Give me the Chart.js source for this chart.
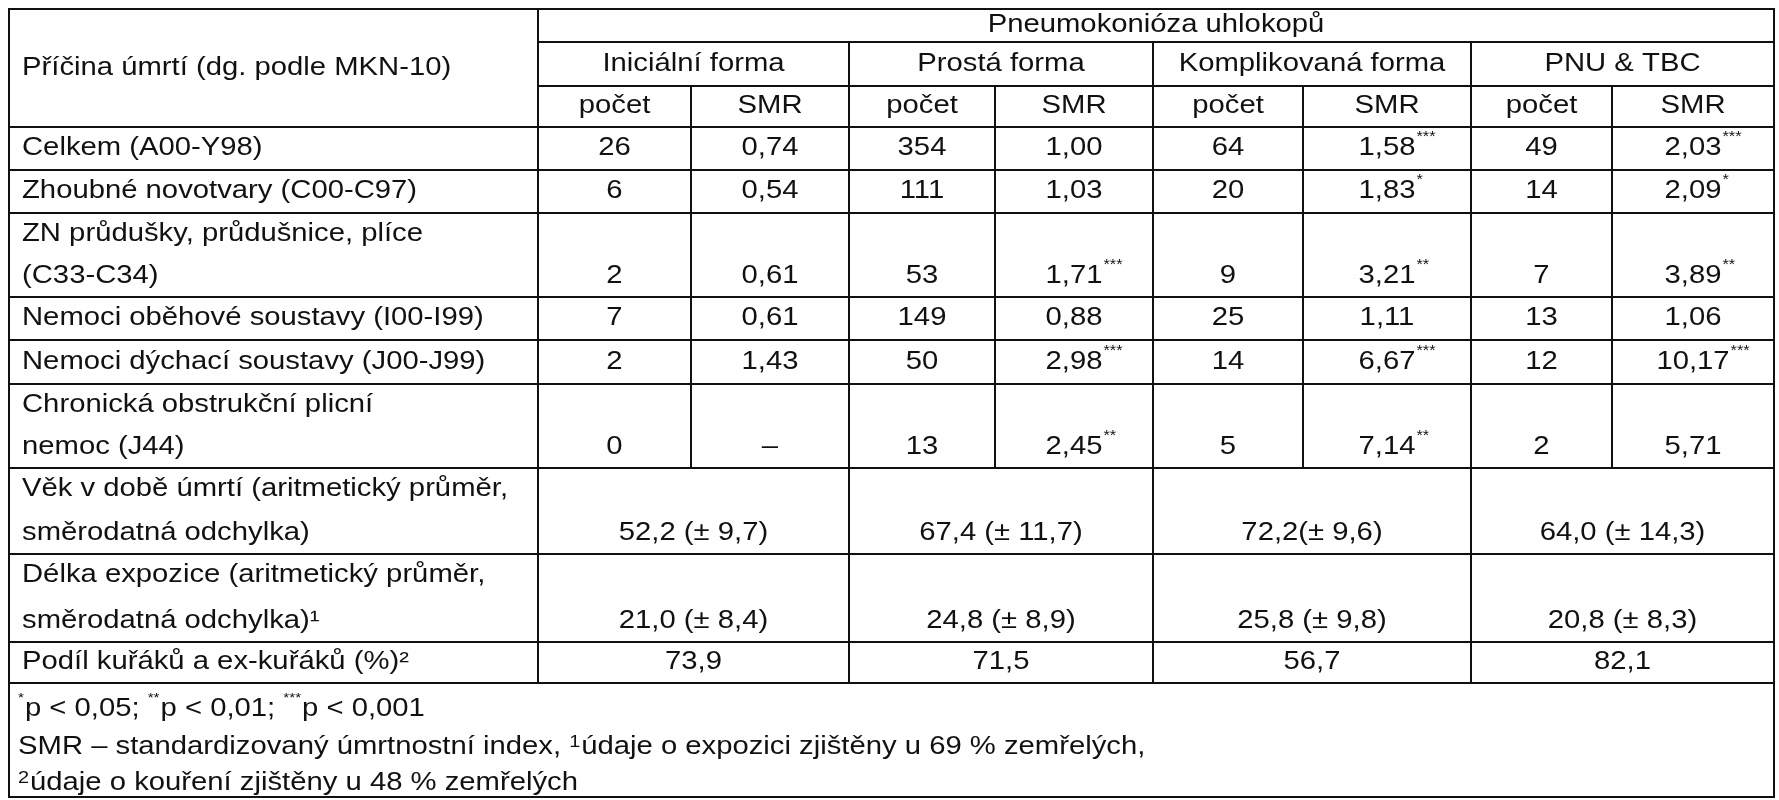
<!DOCTYPE html>
<html><head><meta charset="utf-8">
<script src="https://cdn.jsdelivr.net/npm/chart.js@4/dist/chart.umd.min.js"></script>
<style>html,body{margin:0;padding:0;background:#fff}</style>
</head><body>
<canvas id="c" width="1779" height="800"></canvas>
<script>
const header = "Příčina úmrtí (dg. podle MKN-10)";
const topHeader = "Pneumokonióza uhlokopů";
const groups = ["Iniciální forma", "Prostá forma", "Komplikovaná forma", "PNU & TBC"];
const subHeads = ["počet", "SMR"];
const causes = [
  ["Celkem (A00-Y98)"],
  ["Zhoubné novotvary (C00-C97)"],
  ["ZN průdušky, průdušnice, plíce", "(C33-C34)"],
  ["Nemoci oběhové soustavy (I00-I99)"],
  ["Nemoci dýchací soustavy (J00-J99)"],
  ["Chronická obstrukční plicní", "nemoc (J44)"]
];
const countIni = ["26","6","2","7","2","0"];
const smrIni   = ["0,74","0,54","0,61","0,61","1,43","–"];
const sigIni   = ["","","","","",""];
const countPro = ["354","111","53","149","50","13"];
const smrPro   = ["1,00","1,03","1,71","0,88","2,98","2,45"];
const sigPro   = ["","","***","","***","**"];
const countKom = ["64","20","9","25","14","5"];
const smrKom   = ["1,58","1,83","3,21","1,11","6,67","7,14"];
const sigKom   = ["***","*","**","","***","**"];
const countPnu = ["49","14","7","13","12","2"];
const smrPnu   = ["2,03","2,09","3,89","1,06","10,17","5,71"];
const sigPnu   = ["***","*","**","","***",""];
const summaryLabels = [
  ["Věk v době úmrtí (aritmetický průměr,", "směrodatná odchylka)"],
  ["Délka expozice (aritmetický průměr,", "směrodatná odchylka)¹"],
  ["Podíl kuřáků a ex-kuřáků (%)²"]
];
const ageVals = ["52,2 (± 9,7)", "67,4 (± 11,7)", "72,2(± 9,6)", "64,0 (± 14,3)"];
const expoVals = ["21,0 (± 8,4)", "24,8 (± 8,9)", "25,8 (± 9,8)", "20,8 (± 8,3)"];
const smokeVals = ["73,9", "71,5", "56,7", "82,1"];
const footnotes = [
  [["*","s"],["p < 0,05; ",""],["**","s"],["p < 0,01; ",""],["***","s"],["p < 0,001",""]],
  [["SMR – standardizovaný úmrtnostní index, ",""],["1","s"],["údaje o expozici zjištěny u 69 % zemřelých,",""]],
  [["2","s"],["údaje o kouření zjištěny u 48 % zemřelých",""]]
];
const colX = [9, 538, 691, 849, 995, 1153, 1303, 1471, 1612, 1774];
const rowY = [9, 42, 86, 127, 170, 213, 297, 340, 384, 468, 554, 642, 683, 797];
const footY = [709, 747, 783];

const counts = [countIni, countPro, countKom, countPnu];
const smrs = [smrIni, smrPro, smrKom, smrPnu];
const sigs = [sigIni, sigPro, sigKom, sigPnu];

const FONT = '"Liberation Sans", Arial, sans-serif';
const FS = 25;
const SX = 1.17;

const tablePlugin = {
  id: 'table',
  afterDraw(chart) {
    const ctx = chart.ctx, xs = chart.scales.x, ys = chart.scales.y;
    const X = v => xs.getPixelForValue(v), Y = v => ys.getPixelForValue(v);
    ctx.save();
    ctx.strokeStyle = '#111'; ctx.lineWidth = 2; ctx.lineCap = 'square';
    const hl = (x1, x2, y) => { ctx.beginPath(); ctx.moveTo(X(x1), Y(y)); ctx.lineTo(X(x2), Y(y)); ctx.stroke(); };
    const vl = (x, y1, y2) => { ctx.beginPath(); ctx.moveTo(X(x), Y(y1)); ctx.lineTo(X(x), Y(y2)); ctx.stroke(); };
    const L = colX[0], R = colX[9];
    hl(L, R, rowY[0]); hl(L, R, rowY[13]); vl(L, rowY[0], rowY[13]); vl(R, rowY[0], rowY[13]);
    hl(colX[1], R, rowY[1]); hl(colX[1], R, rowY[2]);
    for (let i = 3; i <= 12; i++) hl(L, R, rowY[i]);
    vl(colX[1], rowY[0], rowY[12]);
    [3,5,7].forEach(i => vl(colX[i], rowY[1], rowY[12]));
    [2,4,6,8].forEach(i => vl(colX[i], rowY[2], rowY[9]));
    ctx.fillStyle = '#111';
    // stretched text at pixel position
    const draw = (s, px, py, align, size) => {
      ctx.save();
      ctx.font = size + 'px ' + FONT; ctx.textAlign = align; ctx.textBaseline = 'middle';
      ctx.translate(px, py); ctx.scale(SX, 1); ctx.fillText(s, 0, 0);
      ctx.restore();
    };
    const width = (s, size) => { ctx.font = size + 'px ' + FONT; return ctx.measureText(s).width * SX; };
    const txt = (s, x, y, align) => draw(s, X(x), Y(y), align || 'center', FS);
    const withSup = (s, sup, cx, y) => {
      const w = width(s, FS);
      const start = X(cx) - w / 2;
      draw(s, start, Y(y), 'left', FS);
      if (sup) draw(sup, start + w + 1, Y(y) - 11, 'left', 14);
    };
    const lx = L + 13;
    txt(header, lx, (rowY[0] + rowY[3]) / 2, 'left');
    txt(topHeader, (colX[1] + R) / 2, (rowY[0] + rowY[1]) / 2);
    groups.forEach((g, i) => txt(g, (colX[1 + 2*i] + colX[3 + 2*i]) / 2, (rowY[1] + rowY[2]) / 2));
    for (let c = 0; c < 8; c++) txt(subHeads[c % 2], (colX[1 + c] + colX[2 + c]) / 2, (rowY[2] + rowY[3]) / 2);
    const rowText = (lab, top, bot) => {
      if (lab.length === 1) { const yv = (top + bot) / 2; txt(lab[0], lx, yv, 'left'); return yv; }
      const yv = bot - 21; txt(lab[0], lx, top + 21, 'left'); txt(lab[1], lx, yv, 'left'); return yv;
    };
    causes.forEach((lab, r) => {
      const yv = rowText(lab, rowY[3 + r], rowY[4 + r]);
      for (let g = 0; g < 4; g++) {
        txt(counts[g][r], (colX[1 + 2*g] + colX[2 + 2*g]) / 2, yv);
        withSup(smrs[g][r], sigs[g][r], (colX[2 + 2*g] + colX[3 + 2*g]) / 2, yv);
      }
    });
    const sums = [ageVals, expoVals, smokeVals];
    summaryLabels.forEach((lab, r) => {
      const yv = rowText(lab, rowY[9 + r], rowY[10 + r]);
      for (let g = 0; g < 4; g++) txt(sums[r][g], (colX[1 + 2*g] + colX[3 + 2*g]) / 2, yv);
    });
    footnotes.forEach((parts, i) => {
      let x = X(lx) - 4;
      parts.forEach(([s, t]) => {
        let size = FS, dy = 0;
        if (t === 's' && s.startsWith('*')) { size = 13; dy = -11; }
        else if (t === 's') { size = 17; dy = -5; }
        draw(s, x, Y(footY[i]) + dy, 'left', size);
        x += width(s, size) + (t === 's' ? 1 : 0);
      });
    });
    ctx.restore();
  }
};

new Chart(document.getElementById('c'), {
  type: 'scatter',
  data: { datasets: [{ data: [], pointRadius: 0 }] },
  options: {
    responsive: false, animation: false, devicePixelRatio: 1,
    layout: { padding: 0 },
    plugins: { legend: { display: false }, tooltip: { enabled: false } },
    scales: {
      x: { type: 'linear', min: 0, max: 1779, display: false },
      y: { type: 'linear', min: 0, max: 800, reverse: true, display: false }
    }
  },
  plugins: [tablePlugin]
});
</script>
</body></html>
